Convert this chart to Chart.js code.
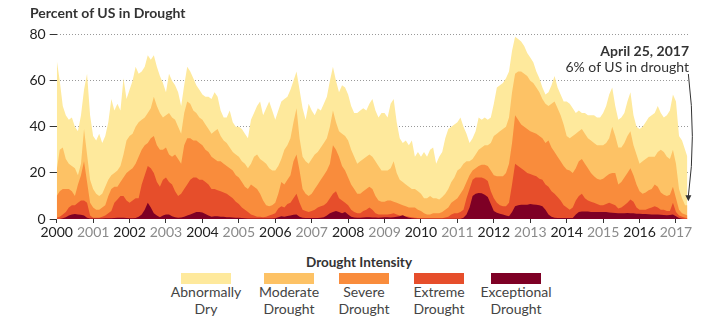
<!DOCTYPE html>
<html>
<head>
<meta charset="utf-8">
<script src="https://cdn.jsdelivr.net/npm/chart.js@4"></script>
<style>
body { margin: 0; background: #fff; font-family: Lato, "Open Sans", sans-serif; color: #333; }
#wrap { position: relative; width: 720px; height: 321px; overflow: hidden; }
canvas { position: absolute; left: 0; top: 0; }
.title { position: absolute; left: 30px; top: 4px; font-size: 14px; font-weight: bold; color: #333; }
.note { position: absolute; right: 31px; font-size: 14px; text-align: right; white-space: nowrap; color: #333; }
.legend-title { position: absolute; left: 259px; width: 200px; top: 254px; text-align: center; font-size: 13.5px; font-weight: bold; color: #333; }
.item { position: absolute; width: 90px; text-align: center; font-size: 14px; line-height: 17px; color: #444; }
.swatch { position: absolute; width: 50px; height: 11px; top: 273px; }
</style>
</head>
<body>
<div id="wrap">
  <canvas id="chart" width="720" height="250"></canvas>
  <div class="title">Percent of US in Drought</div>
  <div class="note" style="top:42px;font-weight:bold;">April 25, 2017</div>
  <div class="note" style="top:58px;">6% of US in drought</div>
  <div class="legend-title">Drought Intensity</div>
</div>
<script>
// monthly readings, Jan 2000 .. Apr 2017, last value = April 25, 2017
const dates = [];
for (let i = 0; i < 208; i++) dates.push(2000 + i / 12);
dates.push(2017 + 114 / 365);

const yearLabels = [2000, 2001, 2002, 2003, 2004, 2005, 2006, 2007, 2008, 2009, 2010, 2011, 2012, 2013, 2014, 2015, 2016, 2017];
const yTicks = [0, 20, 40, 60, 80];

const seriesNames = [['Abnormally', 'Dry'], ['Moderate', 'Drought'], ['Severe', 'Drought'], ['Extreme', 'Drought'], ['Exceptional', 'Drought']];
const colors = ['#fee99c', '#fdc265', '#f98c3c', '#e64e2b', '#7e0025'];

// D0-D4 (percent of US, cumulative)
const d0 = [69, 60, 49, 45, 43, 44, 40, 38, 45, 56, 63, 45,
  36, 34, 37, 33, 36, 42, 52, 47, 50, 47, 61, 52,
  56, 60, 66, 63, 64, 66, 71, 69, 71, 66, 62, 59,
  55, 63, 60, 58, 55, 49, 58, 66, 64, 61, 58, 56,
  54, 53, 53, 52, 55, 53, 47, 44, 44, 47, 42, 40,
  40, 39, 37, 35, 43, 46, 49, 51, 45, 48, 51, 47,
  43, 47, 51, 52, 53, 56, 60, 64, 56, 48, 43, 50,
  47, 45, 48, 47, 50, 53, 60, 66, 60, 55, 58, 57,
  54, 49, 46, 46, 47, 48, 47, 50, 52, 47, 44, 46,
  46, 44, 50, 52, 42, 35, 33, 34, 32, 34, 27, 29,
  27, 29, 27, 30, 31, 24, 27, 29, 35, 39, 40, 41,
  42, 44, 40, 37, 33, 35, 38, 44, 43, 44, 43, 44,
  50, 57, 58, 59, 61, 64, 73, 79, 78, 77, 75, 72,
  70, 68, 64, 61, 57, 54, 55, 58, 62, 57, 54, 51,
  51, 50, 48, 46, 47, 46, 46, 45, 45, 45, 44, 44,
  46, 49, 54, 57, 49, 43, 44, 46, 51, 55, 45, 40,
  39, 40, 42, 44, 45, 46, 49, 46, 44, 45, 47, 54,
  51, 36, 34, 30, 27];

// D1-D4
const d1 = [21, 30, 31, 26, 24, 23, 22, 19, 24, 39, 28, 17,
  13, 11, 10, 11, 14, 17, 19, 20, 21, 23, 28, 34,
  36, 37, 40, 42, 43, 44, 46, 48, 53, 49, 46, 44,
  45, 46, 44, 43, 40, 37, 46, 51, 50, 47, 46, 44,
  43, 41, 39, 37, 38, 39, 36, 34, 33, 31, 29, 28,
  27, 25, 24, 22, 24, 27, 28, 26, 25, 24, 22, 21,
  21, 23, 26, 30, 32, 35, 42, 48, 35, 27, 25, 24,
  26, 28, 29, 31, 33, 35, 40, 47, 42, 38, 37, 36,
  34, 30, 27, 24, 25, 26, 27, 28, 27, 25, 23, 21,
  21, 21, 22, 25, 20, 17, 16, 15, 14, 13, 13, 12,
  11, 9, 9, 10, 9, 9, 8.5, 9.5, 11, 13, 16, 18,
  21, 22, 24, 25, 25, 26, 28, 30, 31, 32, 32, 33,
  36, 37, 38, 39, 40, 44, 55, 63, 64, 64, 63, 62,
  60, 59, 57, 55, 52, 50, 49, 50, 51, 48, 45, 41,
  36, 35, 36, 37, 38, 39, 37, 35, 34, 33, 32, 32,
  32, 33, 35, 40, 36, 31, 31, 33, 36, 38, 32, 28,
  24, 25, 26, 27, 27, 27, 29, 30, 29, 27, 26, 30,
  24, 13, 9, 6, 6];

// D2-D4
const d2 = [10, 12, 13, 13, 13, 12, 10, 15, 19, 25, 16, 7,
  5, 4, 4, 5, 6, 10, 13, 14, 14, 16, 18, 20,
  21, 22, 24, 27, 30, 32, 33, 35, 36, 32, 30, 30,
  31, 28, 27, 28, 26, 24, 32, 35, 35, 34, 34, 33,
  32, 30, 29, 27, 26, 25, 25, 24, 23, 22, 21, 19,
  18, 16, 14, 13, 15, 14, 13, 11, 8, 6, 5.5, 6,
  7, 11, 16, 15, 17, 19, 25, 28, 21, 13, 11, 10,
  11, 13, 15, 17, 19, 21, 24, 32, 30, 27, 23, 21,
  18, 15, 13, 11, 11, 12, 13, 14, 13, 10, 8, 7.5,
  7.5, 8, 8, 7.5, 7, 6.5, 6, 5.5, 5, 5, 5, 4,
  3.5, 2.5, 2, 2, 2.5, 2.5, 2.5, 3, 4, 5, 7, 8,
  9, 11, 13, 16, 19, 21, 22, 23, 23.5, 23.5, 23, 21,
  19, 18.5, 18.5, 18.5, 20, 24, 33, 45, 43, 41, 40, 39,
  38, 37.5, 37, 36, 35, 33, 34, 31, 29, 27, 25, 23,
  21.5, 21, 20, 22, 25, 26, 24, 22, 20, 18.5, 17.5, 17,
  17.5, 18.5, 19.5, 20, 20, 15, 16, 18, 20, 22, 19, 15,
  12, 11, 11.5, 12.5, 13, 15, 14, 11.5, 10.5, 10, 10.5, 14,
  9, 4, 2.5, 2, 1.5];

// D3-D4
const d3 = [0.5, 1, 2, 3, 5, 6, 6, 7, 8, 8, 7, 1.5,
  0.5, 0.5, 0.5, 1, 1.5, 2.5, 3.5, 7, 8.5, 10, 10, 8,
  7, 8, 9, 9, 15, 19, 23, 22, 20, 16, 14, 17,
  18, 16, 15, 12, 10, 11, 13, 15, 17, 18, 18, 17,
  17, 16, 15, 13, 13, 12.5, 12, 11.5, 11, 10, 9, 7.5,
  6.5, 5, 4, 3, 2, 1.5, 1, 1, 0.8, 1, 1.5, 2,
  2.5, 4.5, 5.5, 5, 6.5, 7, 9, 11, 7, 4, 3.5, 3,
  3.5, 4, 5, 5.5, 6, 7, 9, 11, 12, 9, 8, 7,
  6, 4, 3, 2.5, 2.5, 3.5, 4, 5, 4, 2.5, 2, 2,
  2, 2, 2.2, 2.5, 2, 1.5, 1.5, 1.2, 1, 0.8, 0.5, 0.4,
  0.3, 0.3, 0.3, 0.3, 0.3, 0.3, 0.3, 0.3, 0.6, 1, 2, 2.5,
  2.5, 3, 4, 9, 13, 17, 18, 18, 18, 17.5, 16.5, 12,
  9, 7, 6, 5.5, 5.5, 7, 15, 24, 23, 22, 21, 20,
  19.5, 19, 18.5, 17.5, 17, 15, 14, 12, 11, 9.5, 8, 6,
  5, 4, 5, 8, 10, 11, 9, 8, 7.5, 7, 6.5, 6,
  6, 6.5, 7, 6.5, 6, 4.5, 5, 6, 7, 8.5, 7.5, 5,
  4, 4, 4, 4.5, 5, 5.5, 5, 4, 4, 3.5, 3.5, 7,
  3, 1.5, 1, 0.5, 0.3];

// D4
const d4 = [0, 0, 0.3, 0.8, 1.5, 2, 2.2, 2, 1.8, 1.5, 0.5, 0.2,
  0.2, 0.2, 0.2, 0.2, 0.3, 0.3, 0.3, 0.4, 0.5, 0.5, 0.5, 0.4,
  0.3, 0.3, 0.4, 1, 2, 4, 7, 5, 2.5, 1.5, 0.8, 1.5,
  2, 2, 1.2, 0.8, 0.5, 0.6, 1, 1.5, 2, 2.5, 3, 3,
  2.8, 2.2, 1.5, 1, 1.2, 1.2, 1, 1, 0.8, 0.8, 0.6, 0.5,
  0.5, 0.4, 0.3, 0.2, 0.2, 0.2, 0.2, 0.2, 0.2, 0.2, 0.2, 0.2,
  0.3, 0.8, 1.2, 1, 1.3, 1.5, 1.8, 2, 1, 0.5, 0.4, 0.4,
  0.4, 0.4, 0.4, 0.5, 0.8, 1.5, 2.5, 3, 3.5, 3, 2.5, 3,
  2, 1, 0.6, 0.5, 0.5, 0.6, 0.8, 0.8, 0.7, 0.6, 0.5, 0.6,
  0.8, 0.8, 0.6, 0.8, 1, 1.2, 1.6, 1, 0.5, 0.3, 0.2, 0.1,
  0.1, 0.1, 0.1, 0.1, 0.1, 0.1, 0.1, 0.1, 0.1, 0.1, 0.1, 0.1,
  0.1, 0.1, 0.5, 2, 5, 10, 11, 11.3, 11.2, 10.5, 9.5, 6.5,
  3.5, 2.7, 2.3, 2, 1.5, 1.2, 3, 5.5, 6, 6.2, 6.2, 6.2,
  6.5, 6.3, 6.2, 6, 5.5, 4, 2, 1, 0.5, 0.4, 0.4, 0.4,
  0.4, 0.4, 0.4, 2, 3, 3.3, 3.3, 3.2, 3, 3, 3, 3,
  3, 3, 2.8, 2.7, 2.6, 2.5, 2.5, 2.5, 2.6, 2.5, 2.5, 2.3,
  2.3, 2.2, 2.2, 2.1, 2, 2, 1.9, 1.8, 1.7, 1.6, 1.7, 2,
  1.2, 0.4, 0.1, 0, 0];

const levels = [d0, d1, d2, d3, d4];

// legend
const wrap = document.getElementById('wrap');
const centers = [206, 289, 364, 439, 516];
seriesNames.forEach(function (name, i) {
    let sw = document.createElement('div');
    sw.className = 'swatch';
    sw.style.left = (centers[i] - 25) + 'px';
    sw.style.background = colors[i];
    wrap.appendChild(sw);
    let it = document.createElement('div');
    it.className = 'item';
    it.style.left = (centers[i] - 45) + 'px';
    it.style.top = '283px';
    it.innerHTML = name[0] + '<br>' + name[1];
    wrap.appendChild(it);
});

// arrow from the note down to the last value
const arrowPlugin = {
    id: 'arrow',
    afterDatasetsDraw(chart) {
        const ctx = chart.ctx;
        const x = chart.scales.x, y = chart.scales.y;
        const last = dates.length - 1;
        const px = x.getPixelForValue(dates[last]) + 1;
        const top = 74;
        const tip = y.getPixelForValue(d1[last]) - 4;
        ctx.save();
        ctx.strokeStyle = '#333';
        ctx.fillStyle = '#333';
        ctx.lineWidth = 1;
        ctx.beginPath();
        ctx.moveTo(px, top);
        ctx.quadraticCurveTo(px + 8, (top + tip) / 2, px, tip - 5);
        ctx.stroke();
        ctx.beginPath();
        ctx.moveTo(px - 3, tip - 6);
        ctx.lineTo(px + 3, tip - 6);
        ctx.lineTo(px, tip);
        ctx.closePath();
        ctx.fill();
        ctx.restore();
    }
};

// D4 first so it is painted on top
let datasets = [];
for (let k = levels.length - 1; k >= 0; k--) {
    datasets.push({
        label: seriesNames[k].join(' '),
        data: levels[k].map((v, i) => ({ x: dates[i], y: v })),
        backgroundColor: colors[k],
        borderWidth: 0,
        pointRadius: 0,
        fill: 'origin',
        tension: 0
    });
}

let chart = new Chart(document.getElementById('chart').getContext('2d'), {
    type: 'line',
    data: { datasets: datasets },
    options: {
        responsive: false,
        animation: false,
        layout: { padding: { top: 34.5, right: 32, left: 0, bottom: 0 } },
        plugins: { legend: { display: false }, tooltip: { enabled: false } },
        scales: {
            x: {
                type: 'linear',
                min: 2000,
                max: 2017.33,
                afterBuildTicks: s => { s.ticks = yearLabels.map(v => ({ value: v })); },
                afterFit: s => { s.height = 31; },
                grid: { drawOnChartArea: false, drawTicks: true, tickLength: 4, tickColor: '#333' },
                border: { display: false },
                ticks: {
                    autoSkip: false,
                    maxRotation: 0,
                    padding: 1,
                    font: { family: 'Lato', size: 14 },
                    color: c => (c.tick && c.tick.value % 2) ? '#8a8a8a' : '#222',
                    callback: v => String(v)
                }
            },
            y: {
                min: 0,
                max: 80,
                afterBuildTicks: s => { s.ticks = yTicks.map(v => ({ value: v })); },
                afterFit: s => { s.width = 56.7; },
                grid: {
                    color: c => (c.tick && c.tick.value === 0) ? 'rgba(0,0,0,0)' : '#999',
                    tickColor: '#333',
                    tickLength: 7
                },
                border: { display: false, dash: [1, 2] },
                ticks: {
                    padding: 4,
                    font: { family: 'Lato', size: 14 },
                    color: '#222'
                }
            }
        }
    },
    plugins: [arrowPlugin]
});
</script>
</body>
</html>
